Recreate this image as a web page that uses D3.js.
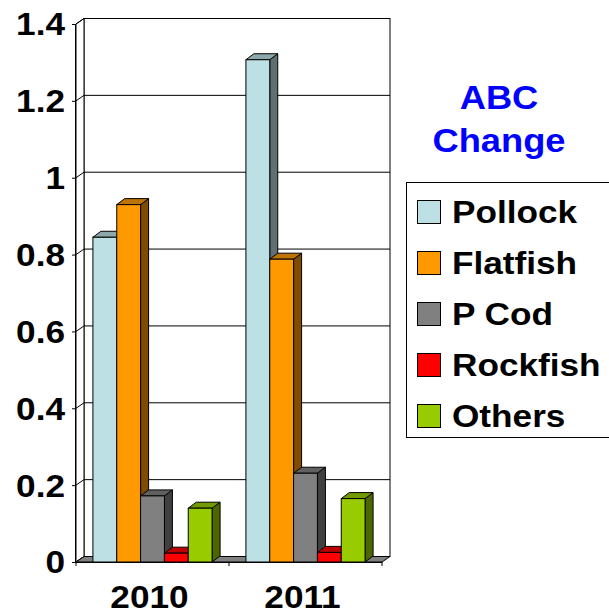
<!DOCTYPE html>
<html><head><meta charset="utf-8">
<script src="https://cdn.jsdelivr.net/npm/d3@7"></script>
<style>html,body{margin:0;padding:0;background:#fff;}svg{display:block;}</style>
</head><body>
<svg id="c" width="609" height="615"></svg>
<script>
const categories = ["2010", "2011"];
const series = ["Pollock", "Flatfish", "P Cod", "Rockfish", "Others"];
const pollock  = [0.845, 1.307];
const flatfish = [0.93, 0.788];
const pcod     = [0.172, 0.231];
const rockfish = [0.023, 0.025];
const others   = [0.14, 0.165];
const yTicks = [0, 0.2, 0.4, 0.6, 0.8, 1, 1.2, 1.4];
const yTickLabels = ["0", "0.2", "0.4", "0.6", "0.8", "1", "1.2", "1.4"];
const titleLines = ["ABC", "Change"];

const values = [pollock, flatfish, pcod, rockfish, others];
const front = ["#BCE0E4", "#FF9900", "#808080", "#FF0000", "#99CC00"];
const side  = ["#5E7072", "#7F4C00", "#404040", "#800000", "#4C6600"];
const top_  = ["#8DA8AB", "#BF7300", "#606060", "#BF0000", "#739900"];

const svg = d3.select("#c");
const FONT = "'Liberation Sans', Arial, sans-serif";
const SX = 1.1;

const x = d3.scaleBand().domain(categories).range([76, 382]);
const xs = d3.scaleBand().domain(series).range([0, x.bandwidth()]).paddingInner(0).paddingOuter(0.71);
const y = d3.scaleLinear().domain([0, 1.4]).range([562, 24]);
const wdx = 8, wdy = -5.5;
const bdx = 8, bdy = -6;

const x0 = x.range()[0], x1 = x.range()[1];
const yb = y(0), yt = y(1.4);

// back wall
svg.append("rect").attr("x", x0 + wdx).attr("y", yt + wdy).attr("width", x1 - x0).attr("height", yb - yt)
  .attr("fill", "#fff").attr("stroke", "#000").attr("stroke-width", 1);
// gridlines on back wall
svg.append("g").selectAll("line").data(yTicks.slice(1, -1)).join("line")
  .attr("x1", x0 + wdx).attr("x2", x1 + wdx)
  .attr("y1", d => y(d) + wdy).attr("y2", d => y(d) + wdy)
  .attr("stroke", "#000").attr("stroke-width", 1);
// left side wall
svg.append("polygon")
  .attr("points", [[x0, yb], [x0, yt], [x0 + wdx, yt + wdy], [x0 + wdx, yb + wdy]].map(p => p.join(",")).join(" "))
  .attr("fill", "#fff").attr("stroke", "#000").attr("stroke-width", 1);
svg.append("g").selectAll("line").data(yTicks).join("line")
  .attr("x1", x0).attr("x2", x0 + wdx)
  .attr("y1", d => y(d)).attr("y2", d => y(d) + wdy)
  .attr("stroke", "#000").attr("stroke-width", 1);
// floor
svg.append("polygon")
  .attr("points", [[x0, yb], [x1, yb], [x1 + wdx, yb + wdy], [x0 + wdx, yb + wdy]].map(p => p.join(",")).join(" "))
  .attr("fill", "#808080").attr("stroke", "#000").attr("stroke-width", 1);

// y axis
const yAxis = d3.axisLeft(y).tickValues(yTicks).tickSize(4).tickPadding(8)
  .tickFormat((d, i) => yTickLabels[i]);
const ga = svg.append("g").attr("transform", `translate(${x0},0)`).call(yAxis);
ga.select(".domain").attr("stroke", "#000").attr("d", `M-0.5,${yt}V${yb}`);
ga.selectAll(".tick line").attr("stroke", "#000");
ga.selectAll(".tick text").attr("font-family", FONT).attr("font-weight", "bold")
  .attr("font-size", 32).attr("fill", "#000").attr("x", 0).attr("dy", null)
  .attr("dominant-baseline", "central")
  .attr("transform", `translate(-11,0) scale(${SX},1)`);

// x axis
const xAxis = d3.axisBottom(x).tickSize(0).tickSizeOuter(0).tickFormat("");
const gx = svg.append("g").attr("transform", `translate(0,${yb})`).call(xAxis);
gx.select(".domain").attr("stroke", "#000");
gx.selectAll(".tick").remove();
// category boundary ticks
svg.append("g").selectAll("line").data([x0, x0 + x.step(), x1]).join("line")
  .attr("x1", d => d).attr("x2", d => d).attr("y1", yb).attr("y2", yb + 4).attr("stroke", "#000");
// category labels
svg.append("g").selectAll("text").data(categories).join("text")
  .attr("transform", d => `translate(${x(d) + x.bandwidth() / 2 - 3},608) scale(${SX},1)`)
  .attr("text-anchor", "middle").attr("font-family", FONT).attr("font-weight", "bold")
  .attr("font-size", 32).attr("fill", "#000").text(d => d);

// bars
const bars = [];
categories.forEach((c, ci) => {
  series.forEach((s, si) => {
    bars.push({ c, s, si, v: values[si][ci] });
  });
});
const gb = svg.append("g");
bars.forEach(b => {
  const bx0 = x(b.c) + xs(b.s), bx1 = bx0 + xs.bandwidth();
  const by = y(b.v), by0 = y(0);
  const g = gb.append("g");
  g.append("polygon")
    .attr("points", [[bx1, by], [bx1 + bdx, by + bdy], [bx1 + bdx, by0 + bdy], [bx1, by0]].map(p => p.join(",")).join(" "))
    .attr("fill", side[b.si]).attr("stroke", "#000").attr("stroke-width", 1).attr("stroke-linejoin", "round");
  g.append("polygon")
    .attr("points", [[bx0, by], [bx0 + bdx, by + bdy], [bx1 + bdx, by + bdy], [bx1, by]].map(p => p.join(",")).join(" "))
    .attr("fill", top_[b.si]).attr("stroke", "#000").attr("stroke-width", 1).attr("stroke-linejoin", "round");
  g.append("rect").attr("x", bx0).attr("y", by).attr("width", bx1 - bx0).attr("height", by0 - by)
    .attr("fill", front[b.si]).attr("stroke", "#000").attr("stroke-width", 1);
});

// title
svg.append("g").selectAll("text").data(titleLines).join("text")
  .attr("transform", (d, i) => `translate(499,${109 + i * 43}) scale(${SX},1)`)
  .attr("text-anchor", "middle").attr("font-family", FONT).attr("font-weight", "bold")
  .attr("font-size", 33).attr("fill", "#0000FF").text(d => d);

// legend
const lg = svg.append("g");
lg.append("rect").attr("x", 406.5).attr("y", 182.5).attr("width", 210).attr("height", 255)
  .attr("fill", "#fff").attr("stroke", "#000").attr("stroke-width", 1);
const li = lg.selectAll("g").data(series).join("g")
  .attr("transform", (d, i) => `translate(0,${i * 51})`);
li.append("rect").attr("x", 417.5).attr("y", 200.5).attr("width", 23).attr("height", 23)
  .attr("fill", (d, i) => front[i]).attr("stroke", "#000").attr("stroke-width", 1);
li.append("text").attr("transform", `translate(452,223) scale(${SX},1)`)
  .attr("font-family", FONT).attr("font-weight", "bold").attr("font-size", 32)
  .attr("fill", "#000").text(d => d);
</script>
</body></html>
